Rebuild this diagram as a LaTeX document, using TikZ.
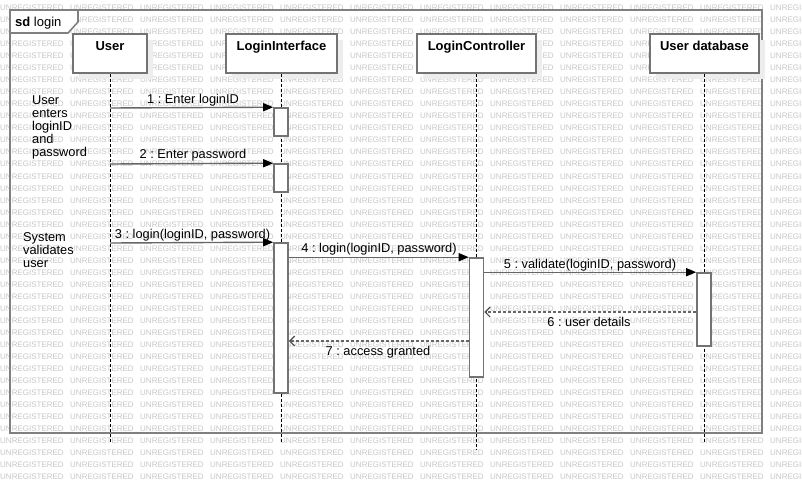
\documentclass[tikz,border=0pt]{standalone}
\usepackage{fontspec}
\setmainfont{Liberation Sans}
\usetikzlibrary{arrows.meta,shadows}
\frenchspacing
\begin{document}
\begin{tikzpicture}[x=1pt,y=-1pt,
  wm/.style={anchor=west,inner sep=0,font=\fontsize{8}{8}\selectfont,text=black!22},
  frameline/.style={draw=black!50,line width=1.6pt},
  objbox/.style={draw=black!55,line width=1.6pt,fill=white,inner sep=0,
    text height=16.5pt,text depth=22.5pt,font=\fontsize{13}{15}\selectfont\bfseries,
    general shadow={fill=black!7,shadow xshift=6pt,shadow yshift=-6pt}},
  lifeline/.style={draw=black,line width=0.8pt,dash pattern=on 3pt off 2pt},
  actbar/.style={draw=black!55,line width=1.6pt,fill=white,minimum width=14pt,inner sep=0},
  msg/.style={draw=black!60,line width=1.4pt,-{Triangle[length=10pt,width=8pt,color=black]}},
  ret/.style={draw=black!60,line width=1.2pt,dash pattern=on 3pt off 2pt,-{Straight Barb[length=5pt,width=10pt,color=black!70]}},
  lbl/.style={inner sep=0,anchor=base,font=\fontsize{12.8}{14}\selectfont},
  note/.style={inner sep=0,anchor=north west,align=left,font=\fontsize{12.8}{13}\selectfont}
]
\useasboundingbox (0,0) rectangle (802,490);
\fill[white] (0,0) rectangle (802,490);
% watermark
\foreach \i in {0,...,11}{
  \foreach \j in {-1,...,38}{
    \node[wm] at ({\i*70},{20+\j*12.02}) {UNREGISTERED};
  }
}
% frame
\draw[frameline] (10,10) rectangle (762,433);
\draw[frameline,fill=white] (10,10) -- (78,10) -- (78,22) -- (68,33) -- (10,33) -- cycle;
\node[anchor=base west,inner sep=0,font=\fontsize{13}{15}\selectfont] (sd) at (15,26) {\textbf{sd} login};
% lifeline ends
\coordinate (uend) at (110,442);
\coordinate (liend) at (281.5,442);
\coordinate (lcend) at (476.5,450);
\coordinate (dbend) at (704.5,442);
% objects
\node[objbox,minimum width=74pt] (u) at (110,53.5) {User};
\node[objbox,minimum width=111pt] (li) at (281.5,53.5) {LoginInterface};
\node[objbox,minimum width=119pt] (lc) at (476.5,53.5) {LoginController};
\node[objbox,minimum width=109pt] (db) at (704.5,53.5) {User database};
% lifelines
\draw[lifeline] (u.south) -- (uend);
\draw[lifeline] (li.south) -- (liend);
\draw[lifeline] (lc.south) -- (lcend);
\draw[lifeline] (db.south) -- (dbend);
% activation bars
\node[actbar,minimum height=28pt] (a1) at (281,122) {};
\node[actbar,minimum height=28pt] (a2) at (281,178) {};
\node[actbar,minimum height=150pt] (a3) at (281,318) {};
\node[actbar,minimum height=119pt] (b1) at (476.5,317.5) {};
\node[actbar,minimum height=73pt] (c1) at (704,309.5) {};
% message start points
\coordinate (m1) at (110,108);
\coordinate (m2) at (110,164);
\coordinate (m3) at (110,243);
\coordinate (r6) at (0,312);
\coordinate (r7) at (0,341);
% messages
\draw[msg] (m1) -- (a1.north west);
\draw[msg] (m2) -- (a2.north west);
\draw[msg] (m3) -- (a3.north west);
\draw[msg] (a3.east |- b1.north) -- (b1.north west);
\draw[msg] (b1.east |- c1.north) -- (c1.north west);
\draw[ret] (c1.west |- r6) -- (b1.east |- r6);
\draw[ret] (b1.west |- r7) -- (a3.east |- r7);
% labels
\node[lbl] (l1) at (193,103) {1 : Enter loginID};
\node[lbl] (l2) at (193,158) {2 : Enter password};
\node[lbl] (l3) at (192.5,238) {3 : login(loginID, password)};
\node[lbl] (l4) at (379,252) {4 : login(loginID, password)};
\node[lbl] (l5) at (590,268) {5 : validate(loginID, password)};
\node[lbl] (l6) at (589,326) {6 : user details};
\node[lbl] (l7) at (378,355) {7 : access granted};
% notes
\node[note] (n1) at (32,95.5) {User\\enters\\loginID\\and\\password};
\node[note] (n2) at (23,232) {System\\validates\\user};
\end{tikzpicture}
\end{document}
